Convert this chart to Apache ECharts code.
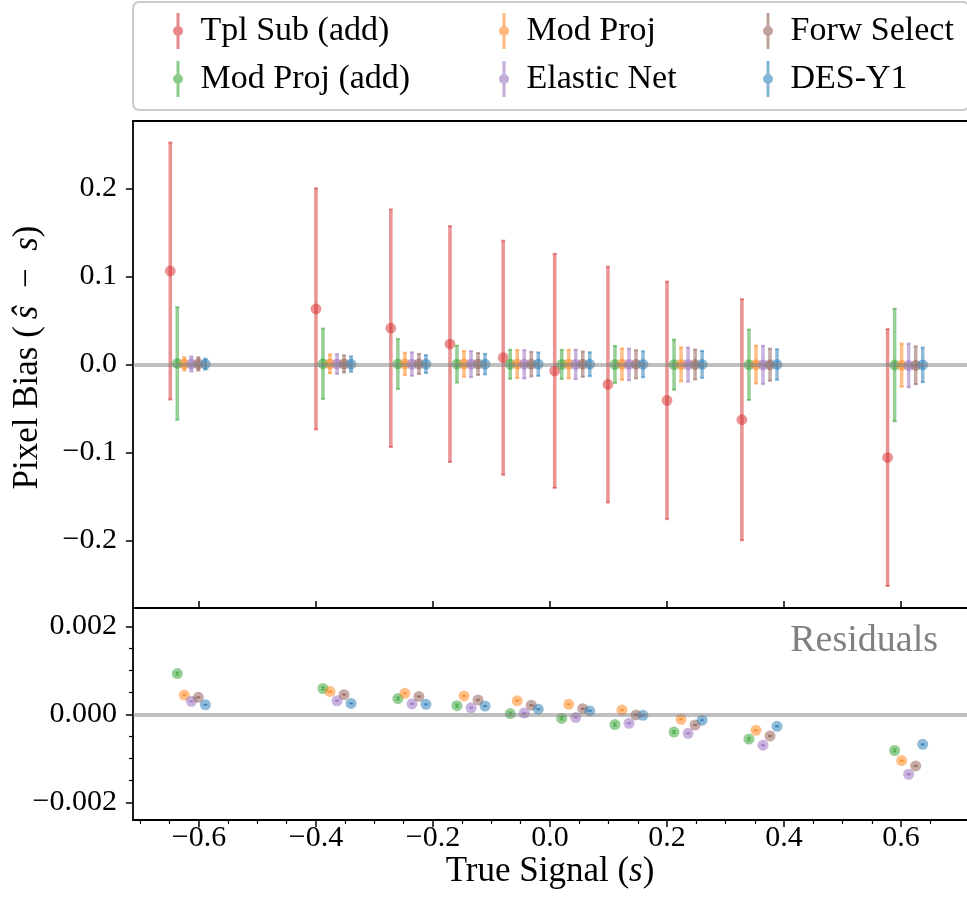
<!DOCTYPE html>
<html>
<head>
<meta charset="utf-8">
<script src="https://cdn.jsdelivr.net/npm/echarts@6/dist/echarts.min.js"></script>
<style>
  html, body { margin: 0; padding: 0; background: #fff; }
  #main { width: 967px; height: 903px; }
</style>
</head>
<body>
<div id="main"></div>
<script>
// bins of true signal (s)
var xBins = [-0.613, -0.364, -0.236, -0.135, -0.044, 0.044, 0.135, 0.236, 0.364, 0.613];

// methods, drawn in this order; small x dodge per method
var methods = ['Tpl Sub (add)', 'Mod Proj (add)', 'Mod Proj', 'Elastic Net', 'Forw Select', 'DES-Y1'];
var colors = ['#d62728', '#2ca02c', '#ff7f0e', '#9467bd', '#8c564b', '#1f77b4'];
var dodge = [-0.036, -0.024, -0.012, 0, 0.012, 0.024];

// pixel bias (top panel)
var tplSubBias = [0.106, 0.063, 0.041, 0.023, 0.0075, -0.0075, -0.023, -0.041, -0.063, -0.106];
var tplSubErr = [0.146, 0.137, 0.135, 0.134, 0.133, 0.133, 0.134, 0.135, 0.137, 0.146];
var modProjAddErr = [0.064, 0.040, 0.0285, 0.021, 0.0165, 0.0165, 0.021, 0.0285, 0.040, 0.064];
var modProjErr = [0.0075, 0.0107, 0.0127, 0.0146, 0.0161, 0.0163, 0.0178, 0.0193, 0.0215, 0.0245];
var elasticErr = [0.0085, 0.0112, 0.0133, 0.0148, 0.0161, 0.0167, 0.018, 0.0194, 0.0218, 0.0248];
var forwErr = [0.0075, 0.0098, 0.0114, 0.0125, 0.0140, 0.0144, 0.016, 0.017, 0.0182, 0.0215];
var desErr = [0.0062, 0.0088, 0.0102, 0.0117, 0.0133, 0.0136, 0.0148, 0.0154, 0.0174, 0.0197];

// residuals (bottom panel, also the bias of those methods)
var modProjAddRes = [0.00093, 0.00059, 0.00036, 0.00020, 0.00002, -0.00009, -0.00023, -0.00040, -0.00056, -0.00082];
var modProjRes = [0.00044, 0.00052, 0.00048, 0.00042, 0.00031, 0.00023, 0.00010, -0.00011, -0.00036, -0.00105];
var elasticRes = [0.00030, 0.00031, 0.00024, 0.00015, 0.00003, -0.00007, -0.00020, -0.00043, -0.00070, -0.00136];
var forwRes = [0.00039, 0.00045, 0.00041, 0.00033, 0.00021, 0.00013, -0.00001, -0.00024, -0.00049, -0.00117];
var desRes = [0.00022, 0.00025, 0.00023, 0.00019, 0.00012, 0.00008, -0.00002, -0.00013, -0.00027, -0.00068];
var modProjAddResErr = [0.00003, 0.00003, 0.00003, 0.00003, 0.00003, 0.00003, 0.00003, 0.00003, 0.00003, 0.00003];
var smallResErr = [0.00001, 0.00001, 0.00001, 0.00001, 0.00001, 0.00001, 0.00001, 0.00001, 0.00001, 0.00001];

// ticks
var xMajor = [-0.6, -0.4, -0.2, 0.0, 0.2, 0.4, 0.6];
var xMinor = [-0.7, -0.65, -0.55, -0.5, -0.45, -0.35, -0.3, -0.25, -0.15, -0.1, -0.05,
              0.05, 0.1, 0.15, 0.25, 0.3, 0.35, 0.45, 0.5, 0.55, 0.65];
var yTopTicks = [-0.2, -0.1, 0.0, 0.1, 0.2];
var yBotTicks = [-0.002, 0.0, 0.002];
var yBotMinor = [-0.0015, -0.001, -0.0005, 0.0005, 0.001, 0.0015];

var topBias = [tplSubBias, modProjAddRes, modProjRes, elasticRes, forwRes, desRes];
var topErr = [tplSubErr, modProjAddErr, modProjErr, elasticErr, forwErr, desErr];
var botRes = [null, modProjAddRes, modProjRes, elasticRes, forwRes, desRes];
var botErr = [null, modProjAddResErr, smallResErr, smallResErr, smallResErr, smallResErr];

var FONT = 'Liberation Serif';

function fmt(d) {
  return function (v) {
    var s = Math.abs(v).toFixed(d);
    return (v < -1e-12 ? '\u2212' : '') + s;
  };
}

function errorBarItem(r, barW, capW, capT) {
  return function (params, api) {
    var x = api.value(0), y = api.value(1), e = api.value(2);
    var c = api.visual('color');
    var p = api.coord([x, y]);
    var hi = api.coord([x, y + e]);
    var lo = api.coord([x, y - e]);
    var op = 0.5;
    return {
      type: 'group',
      children: [
        { type: 'line', shape: { x1: p[0], y1: hi[1], x2: p[0], y2: lo[1] }, style: { stroke: c, lineWidth: barW, opacity: op } },
        { type: 'line', shape: { x1: p[0] - capW / 2, y1: hi[1], x2: p[0] + capW / 2, y2: hi[1] }, style: { stroke: c, lineWidth: capT, opacity: op } },
        { type: 'line', shape: { x1: p[0] - capW / 2, y1: lo[1], x2: p[0] + capW / 2, y2: lo[1] }, style: { stroke: c, lineWidth: capT, opacity: op } },
        { type: 'circle', shape: { cx: p[0], cy: p[1], r: r }, style: { fill: c, opacity: op } }
      ]
    };
  };
}

var zeroLine = {
  silent: true,
  symbol: 'none',
  label: { show: false },
  lineStyle: { color: 'rgba(128,128,128,0.5)', width: 4, type: 'solid' },
  data: [{ yAxis: 0 }]
};

var series = [
  { type: 'scatter', data: [], xAxisIndex: 0, yAxisIndex: 0, z: 1, markLine: zeroLine },
  { type: 'scatter', data: [], xAxisIndex: 2, yAxisIndex: 1, z: 1, markLine: zeroLine }
];

methods.forEach(function (name, i) {
  series.push({
    name: name,
    type: 'custom',
    xAxisIndex: 0,
    yAxisIndex: 0,
    z: 2,
    itemStyle: { color: colors[i] },
    renderItem: errorBarItem(5.4, 3.5, 4, 2),
    data: xBins.map(function (b, k) { return [b + dodge[i], topBias[i][k], topErr[i][k]]; })
  });
  if (botRes[i]) {
    series.push({
      name: name,
      type: 'custom',
      xAxisIndex: 2,
      yAxisIndex: 1,
      z: 2,
      itemStyle: { color: colors[i] },
      renderItem: errorBarItem(5.5, 2, 4, 1.5),
      data: xBins.map(function (b, k) { return [b + dodge[i], botRes[i][k], botErr[i][k]]; })
    });
  }
});

var legendCols = [[0, 1], [2, 3], [4, 5]];
var legendLeft = [173, 499, 763];
var iconPath = 'path://M3.5,0H6.5V36H3.5Z M0,18A5,5,0,1,1,10,18A5,5,0,1,1,0,18Z';

var axisLine = { show: true, onZero: false, lineStyle: { color: '#000', width: 1.8 } };
var tickStyle = { color: '#000', width: 1.5 };
var xMin = -0.7127, xMax = 0.7127;

var option = {
  backgroundColor: '#fff',
  animation: false,
  textStyle: { fontFamily: FONT },
  grid: [
    { left: 133, top: 121, width: 845, height: 487 },
    { left: 133, top: 608, width: 845, height: 212 }
  ],
  legend: legendCols.map(function (col, c) {
    return {
      left: legendLeft[c],
      top: 13,
      orient: 'vertical',
      padding: 0,
      itemWidth: 35,
      itemHeight: 36,
      itemGap: 12,
      selectedMode: false,
      textStyle: { fontFamily: FONT, fontSize: 34, color: '#000' },
      data: col.map(function (i) {
        return { name: methods[i], icon: iconPath, itemStyle: { color: colors[i], opacity: 0.55, borderWidth: 0 } };
      })
    };
  }),
  xAxis: [
    {
      gridIndex: 0, type: 'value', min: xMin, max: xMax, position: 'bottom',
      axisLine: axisLine,
      axisTick: { show: true, inside: true, length: 7, lineStyle: tickStyle, customValues: xMajor },
      axisLabel: { show: false },
      splitLine: { show: false }
    },
    {
      gridIndex: 0, type: 'value', min: xMin, max: xMax, position: 'top',
      axisLine: axisLine,
      axisTick: { show: false },
      axisLabel: { show: false },
      splitLine: { show: false }
    },
    {
      gridIndex: 1, type: 'value', min: xMin, max: xMax, position: 'bottom',
      axisLine: axisLine,
      axisTick: { show: true, length: 7, lineStyle: tickStyle, customValues: xMajor },
      axisLabel: { customValues: xMajor, formatter: fmt(1), fontFamily: FONT, fontSize: 30, color: '#000', margin: 3 },
      splitLine: { show: false },
      name: 'True Signal ({i|s})',
      nameLocation: 'middle',
      nameGap: 34,
      nameTextStyle: {
        fontFamily: FONT, fontSize: 35, color: '#000',
        rich: { i: { fontFamily: FONT, fontSize: 35, fontStyle: 'italic', color: '#000' } }
      }
    },
    {
      gridIndex: 1, type: 'value', min: xMin, max: xMax, position: 'bottom',
      axisLine: { show: false, onZero: false },
      axisTick: { show: true, length: 4, lineStyle: { color: '#000', width: 1.2 }, customValues: xMinor },
      axisLabel: { show: false },
      splitLine: { show: false }
    }
  ],
  yAxis: [
    {
      gridIndex: 0, type: 'value', min: -0.277, max: 0.2765, position: 'left',
      axisLine: axisLine,
      axisTick: { show: true, length: 7, lineStyle: tickStyle, customValues: yTopTicks },
      axisLabel: { customValues: yTopTicks, formatter: fmt(1), fontFamily: FONT, fontSize: 30, color: '#000', margin: 16 },
      splitLine: { show: false },
      name: 'Pixel Bias (\u2009{i|\u015d}\u2002\u2212\u2002{i|s})',
      nameLocation: 'middle',
      nameGap: 88,
      nameTextStyle: {
        fontFamily: FONT, fontSize: 35, color: '#000',
        padding: [0, 0, 0, 14],
        rich: { i: { fontFamily: FONT, fontSize: 35, fontStyle: 'italic', color: '#000' } }
      }
    },
    {
      gridIndex: 1, type: 'value', min: -0.0024, max: 0.00242, position: 'left',
      axisLine: axisLine,
      axisTick: { show: true, length: 7, lineStyle: tickStyle, customValues: yBotTicks },
      axisLabel: { customValues: yBotTicks, formatter: fmt(3), fontFamily: FONT, fontSize: 30, color: '#000', margin: 16 },
      splitLine: { show: false }
    },
    {
      gridIndex: 1, type: 'value', min: -0.0024, max: 0.00242, position: 'left',
      axisLine: { show: false, onZero: false },
      axisTick: { show: true, length: 4, lineStyle: { color: '#000', width: 1.2 }, customValues: yBotMinor },
      axisLabel: { show: false },
      splitLine: { show: false }
    }
  ],
  graphic: [
    {
      type: 'rect', z: 0, silent: true,
      shape: { x: 133, y: 2, width: 836, height: 108, r: 6 },
      style: { fill: '#fff', stroke: '#cccccc', lineWidth: 2 }
    },
    {
      type: 'text', z: 10, silent: true,
      x: 938, y: 641,
      style: { text: 'Residuals', font: '38px "Liberation Serif"', fill: '#808080', align: 'right', verticalAlign: 'middle' }
    }
  ],
  series: series
};

var chart = echarts.init(document.getElementById('main'), null, { renderer: 'canvas' });
chart.setOption(option);
</script>
</body>
</html>
